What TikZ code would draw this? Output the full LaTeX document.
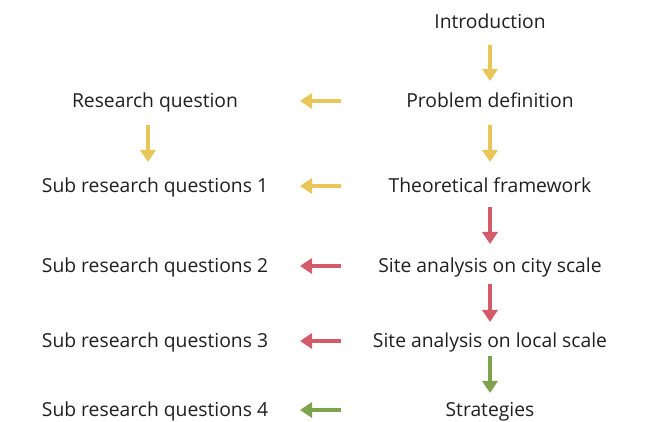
\documentclass[tikz,border=0pt]{standalone}
\usepackage{fontspec}
\setmainfont{Open Sans}
\usetikzlibrary{arrows.meta}
\definecolor{ayel}{HTML}{E8C65A}
\definecolor{ared}{HTML}{D45B6A}
\definecolor{agrn}{HTML}{7FA34C}
\begin{document}
\begin{tikzpicture}[x=1pt,y=-1pt,
  lbl/.style={font=\fontsize{19.3}{22}\selectfont, text=black!88, inner sep=0pt, anchor=base},
  arr/.style={line width=4pt, -{Triangle[width=15pt,length=12pt]}}]
\useasboundingbox (0,0) rectangle (646,422);
% right column
\node[lbl] (intro) at (490,29) {Introduction};
\node[lbl] (prob) at (490,108) {Problem definition};
\node[lbl] (theo) at (490,193) {Theoretical framework};
\node[lbl] (city) at (490,273) {Site analysis on city scale};
\node[lbl] (loc) at (490,348) {Site analysis on local scale};
\node[lbl] (strat) at (490,417) {Strategies};
% left column
\node[lbl] (rq) at (155,108) {Research question};
\node[lbl] (s1) at (155,193) {Sub research questions 1};
\node[lbl] (s2) at (155,273) {Sub research questions 2};
\node[lbl] (s3) at (155,348) {Sub research questions 3};
\node[lbl] (s4) at (155,417) {Sub research questions 4};
% vertical arrows
\draw[arr, ayel] (intro.center |- 0,45) -- (prob.center |- 0,81);
\draw[arr, ayel] (prob.center |- 0,125) -- (theo.center |- 0,162);
\draw[arr, ared] (theo.center |- 0,207) -- (city.center |- 0,244);
\draw[arr, ared] (city.center |- 0,284) -- (loc.center |- 0,322);
\draw[arr, agrn] (loc.center |- 0,356) -- (strat.center |- 0,393);
\draw[arr, ayel] ([xshift=-7pt]rq.center |- 0,125) -- ([xshift=-7pt]s1.center |- 0,162);
% horizontal arrows
\draw[arr, ayel] (prob.base -| 341,0) ++(0,-7) -- ++(-41,0);
\draw[arr, ayel] (theo.base -| 341,0) ++(0,-7) -- ++(-41,0);
\draw[arr, ared] (city.base -| 341,0) ++(0,-7) -- ++(-41,0);
\draw[arr, ared] (loc.base -| 341,0) ++(0,-7) -- ++(-41,0);
\draw[arr, agrn] (strat.base -| 341,0) ++(0,-7) -- ++(-41,0);
\end{tikzpicture}
\end{document}
